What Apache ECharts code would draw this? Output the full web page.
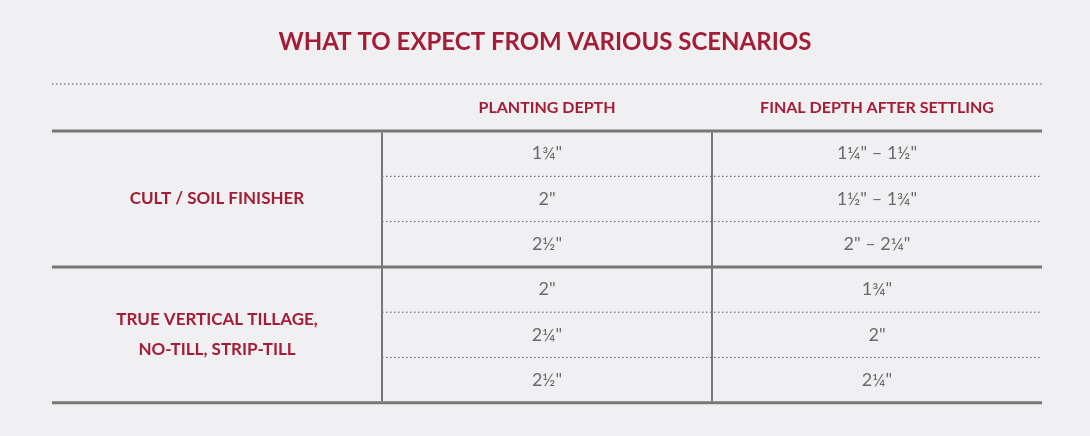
<!DOCTYPE html>
<html><head><meta charset="utf-8">
<script src="https://cdn.jsdelivr.net/npm/echarts@6/dist/echarts.min.js"></script>
<style>html,body{margin:0;background:#f0f0f2}#c{width:1090px;height:436px}</style>
</head><body><div id="c"></div>
<script>
var title = 'WHAT TO EXPECT FROM VARIOUS SCENARIOS';
var headers = ['PLANTING DEPTH', 'FINAL DEPTH AFTER SETTLING'];
var groups = ['CULT / SOIL FINISHER', 'TRUE VERTICAL TILLAGE,\nNO-TILL, STRIP-TILL'];
var plantingDepth = ['1¾"', '2"', '2½"', '2"', '2¼"', '2½"'];
var finalDepth = ['1¼" – 1½"', '1½" – 1¾"', '2" – 2¼"', '1¾"', '2"', '2¼"'];

var red = '#a51c36', gray = '#6b6b6b', lineC = '#777';
var L = 52, R = 1042, X1 = 382, X2 = 712, top0 = 131, rowH = 45.3;
var g = [];
g.push({type:'text', left:'center', top:30, style:{text:title, fill:red, font:'bold 24px Lato', textAlign:'center'}});
g.push({type:'line', shape:{x1:L,y1:84,x2:R,y2:84}, style:{stroke:'#555', lineWidth:1, lineDash:[1.5,2.5]}});
[ (X1+X2)/2, (X2+R)/2 ].forEach(function(x,i){
  g.push({type:'text', x:x, y:108, style:{text:headers[i], fill:red, font:'bold 16px Lato', align:'center', verticalAlign:'middle'}});
});
for (var r = 0; r <= 6; r++) {
  var y = top0 + r*rowH;
  if (r % 3 === 0) g.push({type:'line', shape:{x1:L,y1:y,x2:R,y2:y}, style:{stroke:lineC, lineWidth:3}});
  else g.push({type:'line', shape:{x1:X1,y1:y,x2:R,y2:y}, style:{stroke:'#555', lineWidth:1, lineDash:[1.5,2.5]}});
}
[X1, X2].forEach(function(x){
  g.push({type:'line', shape:{x1:x,y1:top0+1.5,x2:x,y2:top0+6*rowH-1.5}, style:{stroke:lineC, lineWidth:2}});
});
plantingDepth.forEach(function(v,i){
  var y = top0 + (i+0.5)*rowH;
  g.push({type:'text', x:(X1+X2)/2, y:y, style:{text:v, fill:gray, font:'18px Lato', align:'center', verticalAlign:'middle'}});
  g.push({type:'text', x:(X2+R)/2, y:y, style:{text:finalDepth[i], fill:gray, font:'18px Lato', align:'center', verticalAlign:'middle'}});
});
groups.forEach(function(t,i){
  g.push({type:'text', x:(L+X1)/2, y:top0 + (i*3+1.5)*rowH, style:{text:t, fill:red, font:'bold 17px Lato', align:'center', verticalAlign:'middle', lineHeight:30}});
});
var chart = echarts.init(document.getElementById('c'));
chart.setOption({backgroundColor:'#f0f0f2', graphic:g});
</script></body></html>
